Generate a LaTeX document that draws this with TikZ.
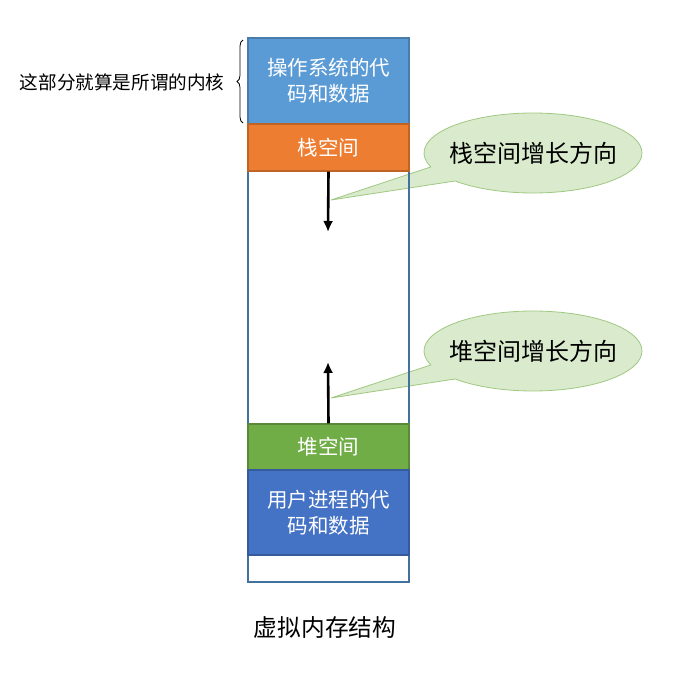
\documentclass[tikz,border=0pt]{standalone}
\usepackage{fontspec}
\newfontfamily\cjk{Noto Sans CJK SC}
\usepackage{tikz}
\usetikzlibrary{arrows.meta,shapes.callouts,decorations.pathreplacing}
\definecolor{osblue}{RGB}{91,155,213}
\definecolor{stackorange}{RGB}{237,125,49}
\definecolor{heapgreen}{RGB}{112,173,71}
\definecolor{userblue}{RGB}{68,114,196}
\definecolor{framecol}{RGB}{65,113,156}
\definecolor{bubblefill}{RGB}{217,234,205}
\definecolor{bubbledraw}{RGB}{160,200,130}
\tikzset{
seg/.style = {rectangle, draw=#1!80!black, fill=#1, line width=1.2pt,
              minimum width=161, inner sep=0pt, text=white, align=center,
              font=\cjk\fontsize{20.5}{26}\selectfont},
seg/.default = osblue
}
\tikzset{
bubble/.style = {ellipse callout, draw=bubbledraw, fill=bubblefill, line width=0.8pt,
                 minimum width=218, minimum height=80, inner xsep=-8pt, callout pointer arc=24,
                 font=\cjk\fontsize{24}{28}\selectfont}
}
\tikzset{
growarrow/.style = {-{Latex[length=11pt,width=10pt]}, line width=2.6pt}
}

\begin{document}
\begin{tikzpicture}[x=1pt,y=-1pt]
\useasboundingbox (0,0) rectangle (672,685);

    \coordinate (stackEnd) at (328,232);
    \coordinate (heapEnd) at (328,362);
    \coordinate (stackTip) at (331,200);
    \coordinate (heapTip) at (331,398);

    \node[bubble, callout absolute pointer=(stackTip)] (stackNote) at (533,153) {栈空间增长方向};
    \node[bubble, callout absolute pointer=(heapTip)] (heapNote) at (533,351) {堆空间增长方向};

    \node[rectangle, draw=framecol, line width=1.2pt, minimum width=161, minimum height=544, inner sep=0pt] (frame) at (328.5,310) {};

    \node[seg=osblue, minimum height=86] (osPart) at (328.5,81) {操作系统的代\\码和数据};
    \node[seg=stackorange, minimum height=47] (stackPart) at (328.5,147.5) {栈空间};
    \node[seg=heapgreen, minimum height=46] (heapPart) at (328.5,447) {堆空间};
    \node[seg=userblue, minimum height=85] (userPart) at (328.5,512.5) {用户进程的代\\码和数据};

\draw[growarrow] (stackPart.south) -- (stackEnd);
\draw[growarrow] (heapPart.north) -- (heapEnd);

\draw[decorate, decoration={brace, amplitude=6pt}, line width=0.8pt] (243,123) -- (243,40);
\node[font=\cjk\fontsize{18.6}{20}\selectfont, anchor=east] (kernel) at (228,82) {这部分就算是所谓的内核};
\node[font=\cjk\fontsize{23.7}{26}\selectfont] (title) at (325,627) {虚拟内存结构};
\end{tikzpicture}
\end{document}
